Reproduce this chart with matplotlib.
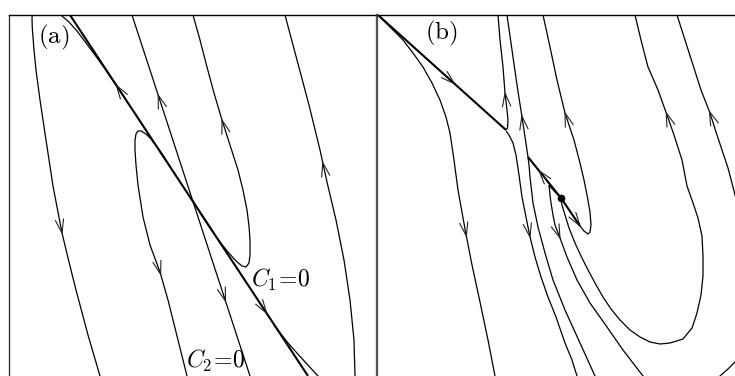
import numpy as np
import matplotlib
matplotlib.use("Agg")
import matplotlib.pyplot as plt

plt.rcParams["mathtext.fontset"] = "cm"

# ---------------- data (pixel-like units: x to the right, y downward) -------------
# Panel (a)
a_c1_x = [70, 308]
a_c1_y = [15, 376]
a_c2_x = [132, 250]
a_c2_y = [15, 376]
a_left_x = [125, 113, 104, 95, 86, 77, 69, 62, 56, 48, 40, 35, 32.5, 32, 32.3, 34, 36, 40, 46, 53, 62, 69, 76, 88, 100, 103]
a_left_y = [98, 80.5, 67.5, 55, 43, 31, 22, 16, 11, 6, 5, 8, 13, 18, 28, 50, 70, 100, 140, 186, 233, 262, 290, 335, 376, 386]
a_lloop_x = [171, 164, 157, 151, 146, 141, 138, 136, 135, 135, 136, 138, 143, 150, 160, 168, 176, 184, 187, 189]
a_lloop_y = [168, 157, 147, 139, 134, 131, 131, 134, 140, 150, 165, 185, 217, 245, 272, 300, 332, 364, 376, 384]
a_rloop_x = [193, 200, 207, 214, 222, 230, 238, 243, 247, 249, 250, 250, 249, 246, 242, 236, 228, 219, 210, 200]
a_rloop_y = [15, 40, 67, 93, 120, 145, 170, 190, 210, 226, 240, 255, 263, 267, 266, 261, 252, 241, 228, 213]
a_far_x = [285, 297, 309, 320, 327, 336, 344, 350, 354, 355, 354, 345, 330, 318, 306, 296, 288, 281, 274]
a_far_y = [15, 60, 105, 150, 182, 220, 260, 300, 340, 376, 392, 400, 395, 376, 363, 352, 343, 334, 325]

# Panel (b)
b_t1_x = [378, 506]
b_t1_y = [15, 130]
b_t2_x = [506, 507.5, 508, 507, 505, 503, 500, 498]
b_t2_y = [130, 128, 120, 110, 93, 67, 40, 15]
b_t3_x = [506, 509, 513, 516, 519, 522, 526, 530, 535, 541, 548, 556, 565, 572, 577, 580]
b_t3_y = [131, 135, 143, 155, 175, 197, 217, 237, 257, 277, 297, 317, 343, 360, 376, 385]
b_t4_x = [507, 512, 517, 522, 525, 528, 529, 530, 533, 538, 545, 553, 565, 580, 595, 600]
b_t4_y = [15, 50, 85, 117, 137, 157, 165, 177, 203, 227, 253, 280, 310, 343, 376, 386]
b_t5_x = [528, 561]
b_t5_y = [157, 198]
b_t6a_x = [561, 580]
b_t6a_y = [198, 226]
b_t6_x = [580, 584, 588, 590, 591, 590, 587, 584, 580, 574, 565, 557, 550, 543]
b_t6_y = [226, 231, 234, 232, 225, 212, 195, 180, 163, 140, 113, 80, 47, 15]
b_t7a_x = [561, 549]
b_t7a_y = [198, 185]
b_t7_x = [549, 550, 551, 553, 555, 560, 567, 577, 590, 607, 623, 643, 648]
b_t7_y = [185, 195, 203, 215, 225, 238, 257, 280, 303, 327, 350, 376, 382]
b_t8_x = [561, 562, 565, 569, 575, 581, 587, 595, 603, 611, 620, 630, 640, 650, 660, 670, 683,
          692, 697, 701, 703, 703, 702, 698, 693, 687, 682, 674, 667, 658, 648, 641, 635]
b_t8_y = [199, 205, 215, 228, 243, 256, 268, 283, 297, 309, 320, 330, 337, 342, 344, 343, 339,
          328, 313, 295, 276, 256, 236, 218, 203, 186, 160, 135, 115, 90, 67, 40, 15]
b_t9_x = [378, 390, 403, 413, 423, 432, 440, 446, 450, 454, 458, 465, 472, 480, 488, 495, 497]
b_t9_y = [15, 27, 40, 53, 67, 83, 100, 117, 133, 160, 190, 229, 265, 302, 340, 376, 386]
b_t10_x = [677, 685, 693, 701, 710, 716, 722, 728, 733, 740, 745, 748, 748, 742, 735, 728, 720, 712]
b_t10_y = [15, 40, 65, 90, 113, 132, 150, 168, 187, 215, 250, 290, 330, 352, 362, 369, 376, 384]
b_dot_x = [561]
b_dot_y = [198]

# arrow placements: (curve, x, y, direction along the curve order)
a_arrows = [("left", 62, 233, 1), ("c1", 117, 85, -1), ("c1", 267, 313, 1),
            ("c2", 158, 95, -1), ("c2", 226, 301, 1), ("lloop", 162, 274, 1),
            ("rloop", 222, 120, -1), ("far", 322, 163, -1)]
b_arrows = [("t1", 455, 83, 1), ("t2", 505, 93, 1), ("t4", 522, 116, -1),
            ("t6", 565, 113, 1), ("t8", 666, 113, 1), ("t10", 709, 112, -1),
            ("t9", 466, 236, 1), ("t3", 530, 237, 1), ("t7", 560, 238, 1),
            ("t5", 540, 170, -1), ("t6a", 579, 227, 1)]

# ---------------- figure -------------
W, H = 735, 376
fig = plt.figure(figsize=(W / 100, H / 100), dpi=100)
fig.patch.set_facecolor("white")

ax_a = fig.add_axes([9 / W, 0, (377 - 9) / W, (H - 15) / H])
ax_b = fig.add_axes([377 / W, 0, (W - 377) / W, (H - 15) / H])
ax_a.set_xlim(9, 377); ax_a.set_ylim(376, 15)
ax_b.set_xlim(377, 735); ax_b.set_ylim(376, 15)

for ax in (ax_a, ax_b):
    ax.set_xticks([]); ax.set_yticks([])
    ax.spines["right"].set_visible(False)
    ax.spines["bottom"].set_visible(False)
    ax.spines["top"].set_linewidth(1.0)
    ax.spines["top"].set_color("black")
ax_a.spines["left"].set_linewidth(0.9)
ax_a.spines["left"].set_color("#222222")
ax_b.spines["left"].set_linewidth(1.7)
ax_b.spines["left"].set_color("#555555")

THIN = 0.9
THICK = 1.5

a_curves = {"c1": (a_c1_x, a_c1_y), "c2": (a_c2_x, a_c2_y), "left": (a_left_x, a_left_y),
            "lloop": (a_lloop_x, a_lloop_y), "rloop": (a_rloop_x, a_rloop_y),
            "far": (a_far_x, a_far_y)}
a_width = {"c1": THICK}
b_curves = {"t1": (b_t1_x, b_t1_y), "t2": (b_t2_x, b_t2_y), "t3": (b_t3_x, b_t3_y),
            "t4": (b_t4_x, b_t4_y), "t5": (b_t5_x, b_t5_y), "t6a": (b_t6a_x, b_t6a_y),
            "t6": (b_t6_x, b_t6_y), "t7a": (b_t7a_x, b_t7a_y), "t7": (b_t7_x, b_t7_y),
            "t8": (b_t8_x, b_t8_y), "t9": (b_t9_x, b_t9_y), "t10": (b_t10_x, b_t10_y)}
b_width = {"t1": THICK, "t5": THICK, "t6a": THICK, "t7a": 1.3}


def chevron(ax, xs, ys, px, py, sign, L=14.0, ang=17.0):
    xs = np.asarray(xs, float); ys = np.asarray(ys, float)
    best = None
    for i in range(len(xs) - 1):
        x0, y0, x1, y1 = xs[i], ys[i], xs[i + 1], ys[i + 1]
        dx, dy = x1 - x0, y1 - y0
        l2 = dx * dx + dy * dy
        t = np.clip(((px - x0) * dx + (py - y0) * dy) / l2, 0, 1)
        qx, qy = x0 + t * dx, y0 + t * dy
        d2 = (qx - px) ** 2 + (qy - py) ** 2
        if best is None or d2 < best[0]:
            best = (d2, qx, qy, dx, dy)
    _, qx, qy, dx, dy = best
    n = np.hypot(dx, dy)
    ux, uy = -sign * dx / n, -sign * dy / n  # backwards direction
    pts = []
    for s in (1, -1):
        a = np.deg2rad(ang * s)
        bx = ux * np.cos(a) - uy * np.sin(a)
        by = ux * np.sin(a) + uy * np.cos(a)
        pts.append((qx + L * bx, qy + L * by))
    ax.plot([pts[0][0], qx, pts[1][0]], [pts[0][1], qy, pts[1][1]],
            color="#222222", lw=0.8, solid_joinstyle="miter")


for key, (xs, ys) in a_curves.items():
    ax_a.plot(xs, ys, color="black", lw=a_width.get(key, THIN), solid_capstyle="butt")
for key, (xs, ys) in b_curves.items():
    ax_b.plot(xs, ys, color="black", lw=b_width.get(key, THIN), solid_capstyle="butt")

for key, px, py, s in a_arrows:
    chevron(ax_a, *a_curves[key], px, py, s)
for key, px, py, s in b_arrows:
    chevron(ax_b, *b_curves[key], px, py, s)

ax_b.plot(b_dot_x, b_dot_y, "o", color="black", ms=4.5)

ax_a.text(54, 37, r"$\mathrm{(a)}$", fontsize=18, ha="center", va="center")
ax_b.text(441, 33, r"$\mathrm{(b)}$", fontsize=18, ha="center", va="center")
ax_a.text(281, 280, r"$C_1\!=\!0$", fontsize=17, ha="center", va="center")
ax_a.text(216, 361, r"$C_2\!=\!0$", fontsize=17, ha="center", va="center")

fig.savefig("out.png", dpi=100, facecolor="white")
